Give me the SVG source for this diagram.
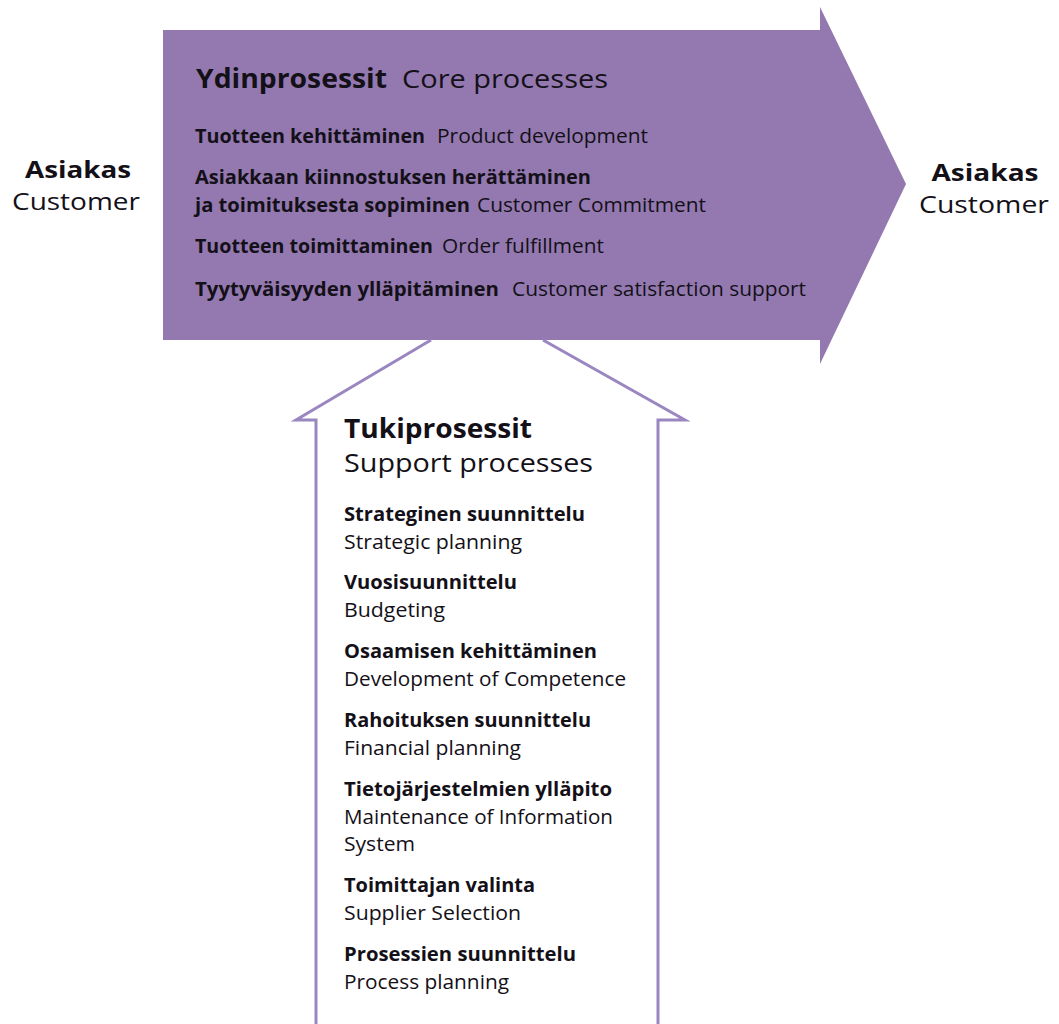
<svg xmlns="http://www.w3.org/2000/svg" width="1059" height="1024" viewBox="0 0 1059 1024">
<style>
text{font-family:"Open Sans","Noto Sans","Liberation Sans",sans-serif;fill:#141018}
.b{font-weight:700}
.h{font-size:26px}
.m{font-size:20px}
.c{font-size:24px}
</style>
<rect width="1059" height="1024" fill="#fff"/>
<g id="core">
<polygon points="163,30 820,30 820,7 906,184 820,364 820,340 163,340" fill="#9379b0"/>
<text class="b h" x="196" y="88" textLength="191" lengthAdjust="spacingAndGlyphs">Ydinprosessit</text>
<text class="h" x="402" y="88" textLength="206" lengthAdjust="spacingAndGlyphs">Core processes</text>
<text class="b m" x="195" y="143" textLength="230" lengthAdjust="spacingAndGlyphs">Tuotteen kehittäminen</text>
<text class="m" x="437" y="143" textLength="211" lengthAdjust="spacingAndGlyphs">Product development</text>
<text class="b m" x="195" y="184" textLength="396" lengthAdjust="spacingAndGlyphs">Asiakkaan kiinnostuksen herättäminen</text>
<text class="b m" x="195" y="212" textLength="275" lengthAdjust="spacingAndGlyphs">ja toimituksesta sopiminen</text>
<text class="m" x="477" y="212" textLength="229" lengthAdjust="spacingAndGlyphs">Customer Commitment</text>
<text class="b m" x="195" y="253" textLength="238" lengthAdjust="spacingAndGlyphs">Tuotteen toimittaminen</text>
<text class="m" x="442" y="253" textLength="162" lengthAdjust="spacingAndGlyphs">Order fulfillment</text>
<text class="b m" x="195" y="296" textLength="304" lengthAdjust="spacingAndGlyphs">Tyytyväisyyden ylläpitäminen</text>
<text class="m" x="512" y="296" textLength="294" lengthAdjust="spacingAndGlyphs">Customer satisfaction support</text>
</g>
<g id="customer-left">
<text class="b c" x="78" y="178" text-anchor="middle" textLength="106" lengthAdjust="spacingAndGlyphs">Asiakas</text>
<text class="c" x="76" y="210" text-anchor="middle" textLength="128" lengthAdjust="spacingAndGlyphs">Customer</text>
</g>
<g id="customer-right">
<text class="b c" x="985" y="181" text-anchor="middle" textLength="107" lengthAdjust="spacingAndGlyphs">Asiakas</text>
<text class="c" x="984" y="213" text-anchor="middle" textLength="130" lengthAdjust="spacingAndGlyphs">Customer</text>
</g>
<g id="connectors" fill="none" stroke="#9a86c0" stroke-width="3" stroke-linejoin="miter">
<polyline points="316,1030 316,420 296,420 431,340"/>
<polyline points="543,340 685,420 658,420 658,1030"/>
</g>
<g id="support">
<text class="b h" x="344" y="438" textLength="188" lengthAdjust="spacingAndGlyphs">Tukiprosessit</text>
<text class="h" x="344" y="472" textLength="249" lengthAdjust="spacingAndGlyphs">Support processes</text>
<text class="b m" x="344" y="521" textLength="241" lengthAdjust="spacingAndGlyphs">Strateginen suunnittelu</text>
<text class="m" x="344" y="549" textLength="178" lengthAdjust="spacingAndGlyphs">Strategic planning</text>
<text class="b m" x="344" y="589" textLength="173" lengthAdjust="spacingAndGlyphs">Vuosisuunnittelu</text>
<text class="m" x="344" y="617" textLength="101" lengthAdjust="spacingAndGlyphs">Budgeting</text>
<text class="b m" x="344" y="658" textLength="253" lengthAdjust="spacingAndGlyphs">Osaamisen kehittäminen</text>
<text class="m" x="344" y="686" textLength="282" lengthAdjust="spacingAndGlyphs">Development of Competence</text>
<text class="b m" x="344" y="727" textLength="247" lengthAdjust="spacingAndGlyphs">Rahoituksen suunnittelu</text>
<text class="m" x="344" y="755" textLength="177" lengthAdjust="spacingAndGlyphs">Financial planning</text>
<text class="b m" x="344" y="796" textLength="268" lengthAdjust="spacingAndGlyphs">Tietojärjestelmien ylläpito</text>
<text class="m" x="344" y="824" textLength="269" lengthAdjust="spacingAndGlyphs">Maintenance of Information</text>
<text class="m" x="344" y="851" textLength="71" lengthAdjust="spacingAndGlyphs">System</text>
<text class="b m" x="344" y="892" textLength="191" lengthAdjust="spacingAndGlyphs">Toimittajan valinta</text>
<text class="m" x="344" y="920" textLength="177" lengthAdjust="spacingAndGlyphs">Supplier Selection</text>
<text class="b m" x="344" y="961" textLength="232" lengthAdjust="spacingAndGlyphs">Prosessien suunnittelu</text>
<text class="m" x="344" y="989" textLength="165" lengthAdjust="spacingAndGlyphs">Process planning</text>
</g>
</svg>
